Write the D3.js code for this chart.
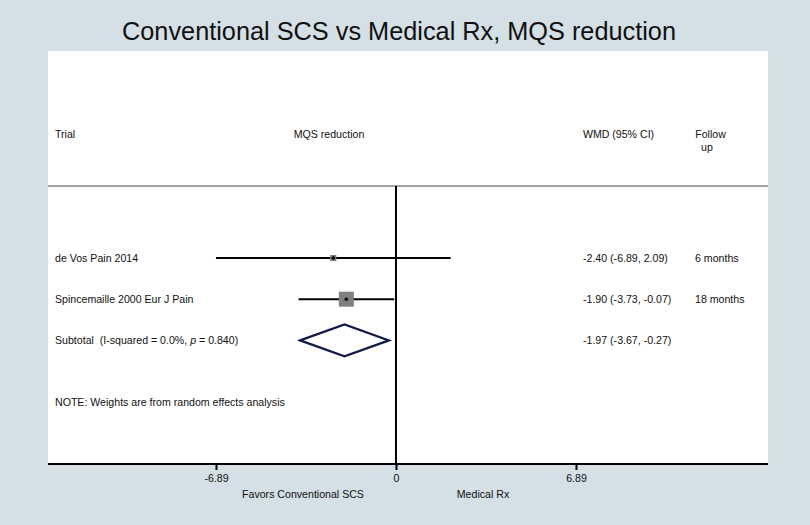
<!DOCTYPE html>
<html><head><meta charset="utf-8">
<script src="https://cdn.jsdelivr.net/npm/d3@7"></script>
<style>body{margin:0;background:#d4dfe6;}svg{display:block;font-family:"Liberation Sans",Arial,sans-serif;}text{white-space:pre;}</style>
</head><body>
<svg id="c" width="810" height="525"></svg>
<script>
const title = "Conventional SCS vs Medical Rx, MQS reduction";
const studies = ["de Vos Pain 2014", "Spincemaille 2000 Eur J Pain"];
const estimates = [-2.40, -1.90];
const lowerCI = [-6.89, -3.73];
const upperCI = [2.09, -0.07];
const weights = [14.3, 85.7];
const followUp = ["6 months", "18 months"];
const pooled = {label: "Subtotal  (I-squared = 0.0%, ", est: -1.97, lo: -3.67, hi: -0.27};
const ticks = [-6.89, 0, 6.89];
const tickLabels = ["-6.89", "0", "6.89"];
const note = "NOTE: Weights are from random effects analysis";

const svg = d3.select("#c");
const W = 810, H = 525;
svg.append("rect").attr("width", W).attr("height", H).attr("fill", "#d4dfe6");
const pL = 48, pR = 768, pT = 51, pB = 464;
svg.append("rect").attr("x", pL).attr("y", pT).attr("width", pR - pL).attr("height", pB - pT).attr("fill", "#fff");

svg.append("text").attr("x", 399).attr("y", 40).attr("text-anchor", "middle")
  .attr("font-size", 25).attr("fill", "#111").attr("textLength", 554).attr("lengthAdjust", "spacingAndGlyphs").text(title);

const x = d3.scaleLinear().domain([-13.32, 14.24]).range([pL, pR]);
const y = d3.scaleLinear().domain([0, 1]).range([258, 299.2]);
const fs = 10.6;
const txt = (xx, yy, s, anchor) => svg.append("text").attr("x", xx).attr("y", yy).attr("dy", "0.35em")
  .attr("font-size", fs).attr("fill", "#111").attr("text-anchor", anchor || "start").text(s);

// header
txt(55, 134, "Trial");
txt(329, 134, "MQS reduction", "middle");
txt(618.5, 134, "WMD (95% CI)", "middle");
txt(710.5, 134, "Follow", "middle");
txt(707, 147, "up", "middle");
svg.append("line").attr("x1", pL).attr("x2", pR).attr("y1", 186).attr("y2", 186).attr("stroke", "#888").attr("stroke-width", 1.5);

// zero line
svg.append("line").attr("x1", x(0)).attr("x2", x(0)).attr("y1", 186).attr("y2", pB).attr("stroke", "#000").attr("stroke-width", 2);

const f2 = v => v.toFixed(2);
const maxSide = 15, maxW = d3.max(weights);
studies.forEach((s, i) => {
  const yy = y(i);
  txt(55, yy, s);
  svg.append("line").attr("x1", x(lowerCI[i])).attr("x2", x(upperCI[i])).attr("y1", yy).attr("y2", yy).attr("stroke", "#000").attr("stroke-width", 2);
  const side = maxSide * Math.sqrt(weights[i] / maxW);
  svg.append("rect").attr("x", x(estimates[i]) - side / 2).attr("y", yy - side / 2).attr("width", side).attr("height", side).attr("fill", "#808080");
  svg.append("circle").attr("cx", x(estimates[i])).attr("cy", yy).attr("r", 1.8).attr("fill", "#000");
  txt(583, yy, `${f2(estimates[i])} (${f2(lowerCI[i])}, ${f2(upperCI[i])})`);
  txt(695, yy, followUp[i]);
});

// pooled
const yp = y(2);
const st = txt(55, yp, pooled.label);
st.append("tspan").attr("font-style", "italic").text("p");
st.append("tspan").text(" = 0.840)");
const dh = 16;
svg.append("path").attr("d", `M${x(pooled.lo)},${yp}L${x(pooled.est)},${yp - dh}L${x(pooled.hi)},${yp}L${x(pooled.est)},${yp + dh}Z`)
  .attr("fill", "none").attr("stroke", "#141a46").attr("stroke-width", 2.2);
txt(583, yp, `${f2(pooled.est)} (${f2(pooled.lo)}, ${f2(pooled.hi)})`);

txt(55, y(3.5), note);

// axis
const ax = svg.append("g").attr("transform", `translate(0,${pB})`).call(d3.axisBottom(x).tickValues(ticks).tickFormat((d, i) => tickLabels[i]).tickSize(6).tickPadding(4));
ax.select(".domain").attr("stroke", "#000").attr("stroke-width", 2).attr("d", `M${pL},0H${pR}`);
ax.selectAll(".tick line").attr("stroke", "#000").attr("stroke-width", 2);
ax.selectAll(".tick text").attr("font-size", fs).attr("fill", "#111").attr("font-family", "Liberation Sans, Arial, sans-serif");
txt(303, 494, "Favors Conventional SCS", "middle");
txt(483, 494, "Medical Rx", "middle");
</script>
</body></html>
